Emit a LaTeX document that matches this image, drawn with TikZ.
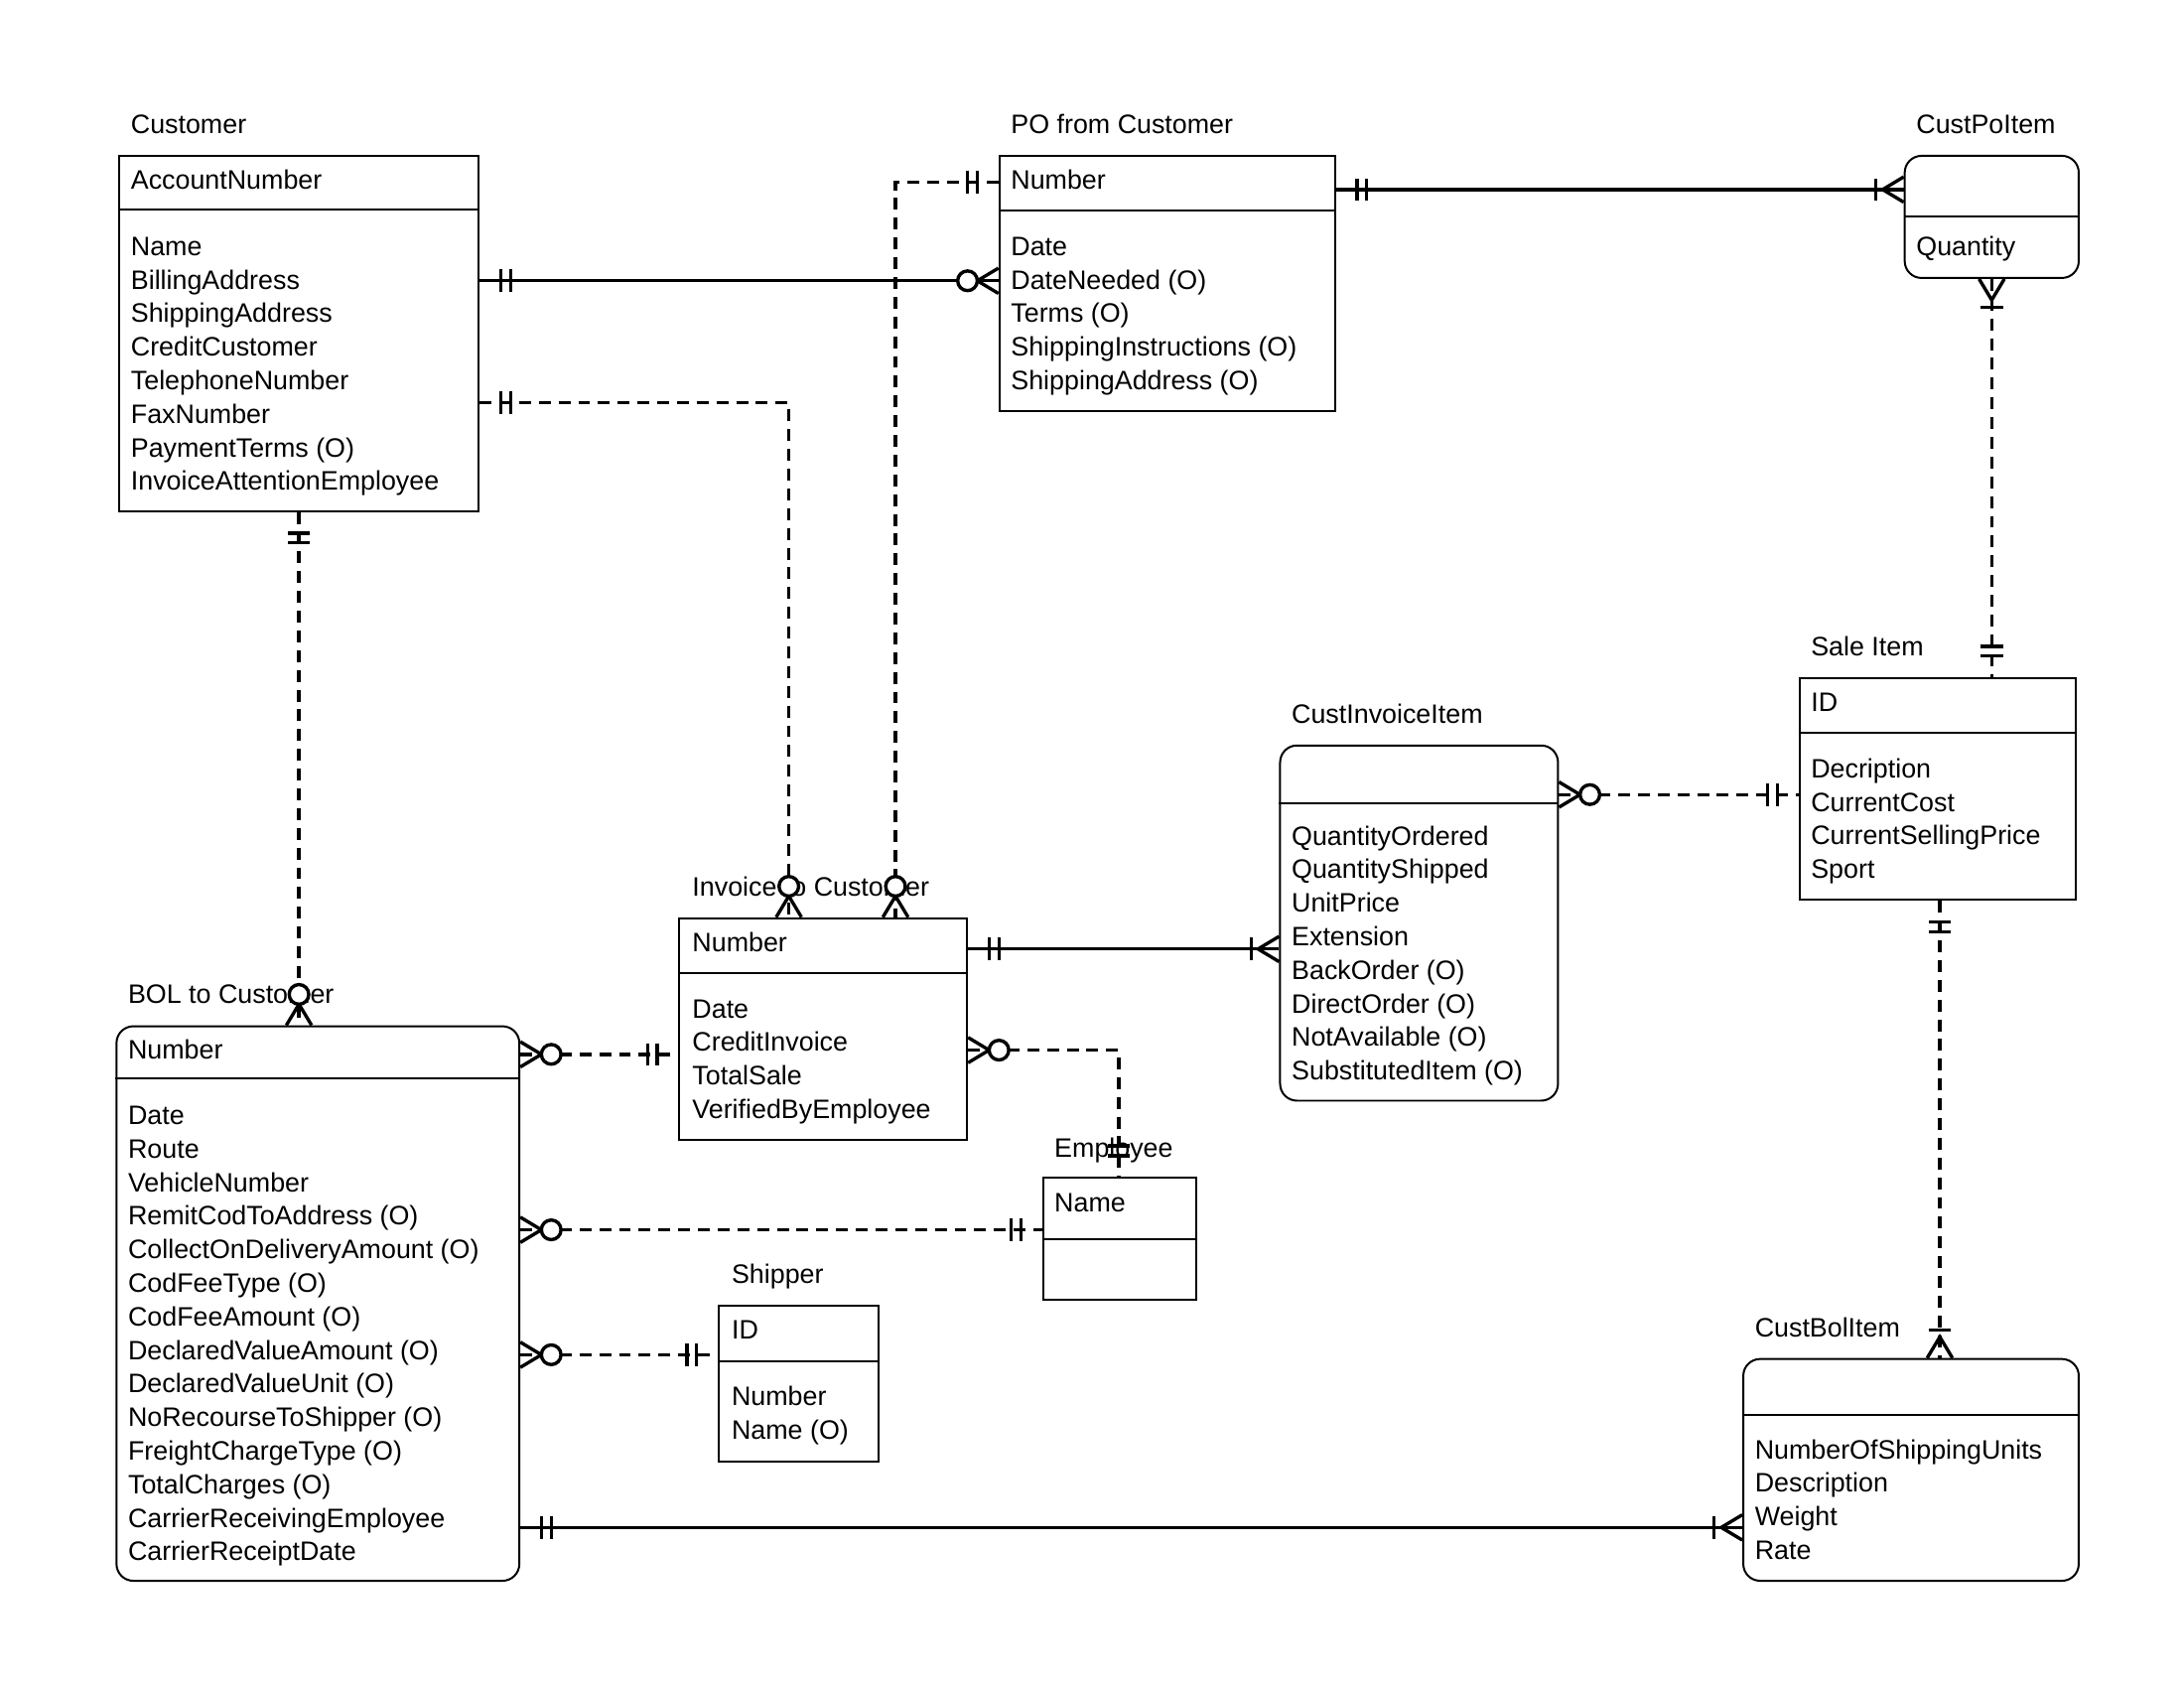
\documentclass[tikz,border=0pt]{standalone}
\usepackage{fontspec}
\setmainfont{Liberation Sans}
\usetikzlibrary{fit}
\begin{document}
\begin{tikzpicture}[x=0.025cm,y=-0.025cm,font=\fontsize{13.5}{16}\selectfont,
  box/.style={draw,line width=1pt,inner sep=0pt},
  rect/.style={},
  rnd/.style={rounded corners=0.3cm},
  txt/.style={anchor=base west,inner sep=0pt},
  conn/.style={line width=1.7pt},
  dsh/.style={dash pattern=on 6pt off 4pt}]
\useasboundingbox (0,0) rectangle (1556,1202);
\newcommand\ent[7]{\node[box,fit={(#2,#3)(#4,#5)},#7] (#1) {};
  \draw[line width=1pt] (#1.west |- 0,#6) -- (#1.east |- 0,#6);}
\newcommand\attrs[3]{\foreach \t [count=\i from 0] in {#3} \node[txt] at (#1,{#2+5+\i*23.9}) {\t};}
\newcommand\ttl[3]{\node[txt] at (#1,#2+5) {#3};}
\newcommand\mk[3]{\begin{scope}[shift={(#1)},rotate=#2]#3\end{scope}}
\newcommand\one[1]{\draw[conn] (#1,-8)--(#1,8);}
\newcommand\crow{\draw[conn] (0,-9)--(15,0)--(0,9);}
\newcommand\zero{\draw[conn,fill=white] (22,0) circle[radius=7];}
\newcommand\oo{\one{15}\one{22}}
\newcommand\zm{\crow\zero}
\newcommand\om{\crow\one{20}}

% Customer
\ent{cust}{85}{111}{341}{364}{149}{rect}
\ttl{93}{90}{Customer}
\node[txt] at (93,135) {AccountNumber};
\attrs{93}{177}{Name,BillingAddress,ShippingAddress,CreditCustomer,TelephoneNumber,FaxNumber,PaymentTerms (O),InvoiceAttentionEmployee}
% PO
\ent{po}{712}{111}{951}{293}{150}{rect}
\ttl{720}{90}{PO from Customer}
\node[txt] at (720,135) {Number};
\attrs{720}{177}{Date,DateNeeded (O),Terms (O),ShippingInstructions (O),ShippingAddress (O)}
% CustPoItem
\ent{cpi}{1357}{111}{1481}{198}{154}{rnd}
\ttl{1365}{90}{CustPoItem}
\attrs{1365}{177}{Quantity}
% Sale Item
\ent{si}{1282}{483}{1479}{641}{522}{rect}
\ttl{1290}{462}{Sale Item}
\node[txt] at (1290,507) {ID};
\attrs{1290}{549}{Decription,CurrentCost,CurrentSellingPrice,Sport}
% CustInvoiceItem
\ent{cii}{912}{531}{1110}{784}{572}{rnd}
\ttl{920}{510}{CustInvoiceItem}
\attrs{920}{597}{QuantityOrdered,QuantityShipped,UnitPrice,Extension,BackOrder (O),DirectOrder (O),NotAvailable (O),SubstitutedItem (O)}
% Invoice
\ent{inv}{484}{654}{689}{812}{693}{rect}
\ttl{493}{633}{Invoice to Customer}
\node[txt] at (493,678) {Number};
\attrs{493}{720}{Date,CreditInvoice,TotalSale,VerifiedByEmployee}
% BOL
\ent{bol}{83}{731}{370}{1126}{768}{rnd}
\ttl{91}{710}{BOL to Customer}
\node[txt] at (91,754) {Number};
\attrs{91}{796}{Date,Route,VehicleNumber,RemitCodToAddress (O),CollectOnDeliveryAmount (O),CodFeeType (O),CodFeeAmount (O),DeclaredValueAmount (O),DeclaredValueUnit (O),NoRecourseToShipper (O),FreightChargeType (O),TotalCharges (O),CarrierReceivingEmployee,CarrierReceiptDate}
% Employee
\ent{emp}{743}{839}{852}{926}{883}{rect}
\ttl{751}{819}{Employee}
\node[txt] at (751,863) {Name};
% Shipper
\ent{shp}{512}{930}{626}{1041}{970}{rect}
\ttl{521}{909}{Shipper}
\node[txt] at (521,954) {ID};
\attrs{521}{996}{Number,Name (O)}
% CustBolItem
\ent{cbi}{1242}{968}{1481}{1126}{1008}{rnd}
\ttl{1250}{947}{CustBolItem}
\attrs{1250}{1034}{NumberOfShippingUnits,Description,Weight,Rate}

% connectors
\draw[conn] (cust.east|-0,200) -- (po.west|-0,200);
\mk{cust.east|-0,200}{0}{\oo}\mk{po.west|-0,200}{180}{\zm}
\draw[conn] (po.east|-0,135) -- (cpi.west|-0,135);
\mk{po.east|-0,135}{0}{\oo}\mk{cpi.west|-0,135}{180}{\om}
\draw[conn,dsh] (1419,0|-cpi.south) -- (1419,0|-si.north);
\mk{1419,0|-cpi.south}{-90}{\om}\mk{1419,0|-si.north}{90}{\oo}
\draw[conn,dsh] (cust.east|-0,287) -- (562,287) -- (562,0|-inv.north);
\mk{cust.east|-0,287}{0}{\oo}\mk{562,0|-inv.north}{90}{\zm}
\draw[conn,dsh] (po.west|-0,130) -- (638,130) -- (638,0|-inv.north);
\mk{po.west|-0,130}{180}{\oo}\mk{638,0|-inv.north}{90}{\zm}
\draw[conn,dsh] (213,0|-cust.south) -- (213,0|-bol.north);
\mk{213,0|-cust.south}{-90}{\oo}\mk{213,0|-bol.north}{90}{\zm}
\draw[conn] (inv.east|-0,676) -- (cii.west|-0,676);
\mk{inv.east|-0,676}{0}{\oo}\mk{cii.west|-0,676}{180}{\om}
\draw[conn,dsh] (cii.east|-0,566) -- (si.west|-0,566);
\mk{cii.east|-0,566}{0}{\zm}\mk{si.west|-0,566}{180}{\oo}
\draw[conn,dsh] (1382,0|-si.south) -- (1382,0|-cbi.north);
\mk{1382,0|-si.south}{-90}{\oo}\mk{1382,0|-cbi.north}{90}{\om}
\draw[conn,dsh] (bol.east|-0,751) -- (inv.west|-0,751);
\mk{bol.east|-0,751}{0}{\zm}\mk{inv.west|-0,751}{180}{\oo}
\draw[conn,dsh] (inv.east|-0,748) -- (797,748) -- (797,0|-emp.north);
\mk{inv.east|-0,748}{0}{\zm}\mk{797,0|-emp.north}{90}{\oo}
\draw[conn,dsh] (bol.east|-0,876) -- (emp.west|-0,876);
\mk{bol.east|-0,876}{0}{\zm}\mk{emp.west|-0,876}{180}{\oo}
\draw[conn,dsh] (bol.east|-0,965) -- (shp.west|-0,965);
\mk{bol.east|-0,965}{0}{\zm}\mk{shp.west|-0,965}{180}{\oo}
\draw[conn] (bol.east|-0,1088) -- (cbi.west|-0,1088);
\mk{bol.east|-0,1088}{0}{\oo}\mk{cbi.west|-0,1088}{180}{\om}
\end{tikzpicture}
\end{document}
